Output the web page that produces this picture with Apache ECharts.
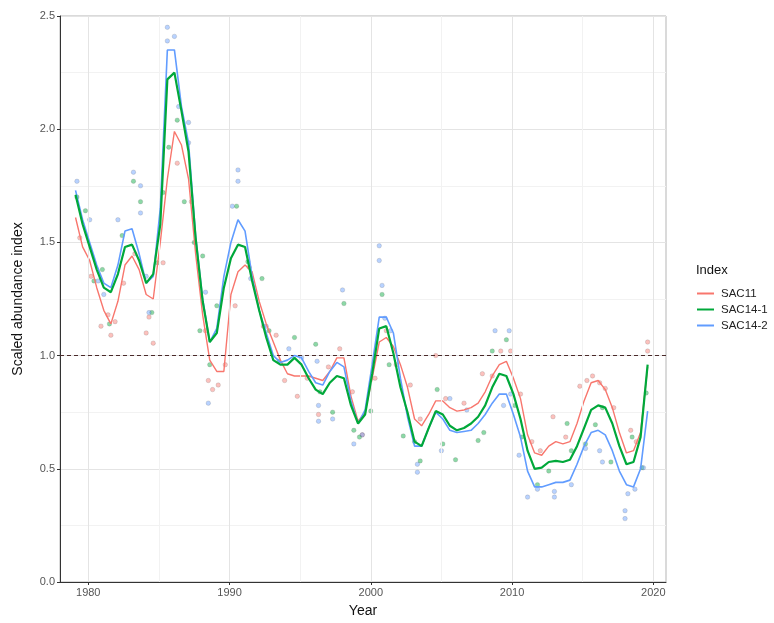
<!DOCTYPE html>
<html>
<head>
<meta charset="utf-8">
<script src="https://cdn.jsdelivr.net/npm/echarts@6/dist/echarts.min.js"></script>
<style>
  html, body { margin: 0; padding: 0; background: #fff; }
  #chart { width: 774px; height: 623px; }
</style>
</head>
<body>
<div id="chart"></div>
<script>
// Smoothed index values on a half-year time grid (1979.1 .. 2019.6)
const years = Array.from({ length: 82 }, (_, i) => +(1979.1 + 0.5 * i).toFixed(1));

const sac11 = [
  1.61, 1.48, 1.42, 1.30, 1.20, 1.14, 1.24, 1.40, 1.44, 1.38,
  1.27, 1.25, 1.50, 1.78, 1.99, 1.93, 1.78, 1.45, 1.18, 0.98,
  0.93, 0.93, 1.27, 1.37, 1.40, 1.37, 1.24, 1.14, 1.06, 0.98,
  0.92, 0.91, 0.91, 0.91, 0.90, 0.89, 0.93, 0.99, 0.99, 0.82,
  0.71, 0.75, 0.90, 1.06, 1.08, 1.04, 0.96, 0.86, 0.72, 0.69,
  0.74, 0.80, 0.80, 0.77, 0.755, 0.76, 0.77, 0.79, 0.84, 0.91,
  0.96, 0.975, 0.90, 0.81, 0.65, 0.57, 0.56, 0.60, 0.62, 0.61,
  0.62, 0.70, 0.80, 0.88, 0.89, 0.85, 0.77, 0.66, 0.57, 0.58,
  0.66, 0.95
];

const sac14_1 = [
  1.71, 1.58, 1.48, 1.38, 1.30, 1.28, 1.36, 1.48, 1.49, 1.42,
  1.32, 1.36, 1.58, 2.22, 2.25, 2.08, 1.90, 1.52, 1.24, 1.06,
  1.10, 1.30, 1.43, 1.49, 1.48, 1.33, 1.20, 1.08, 0.98, 0.96,
  0.96, 0.99, 0.96, 0.90, 0.85, 0.83, 0.88, 0.91, 0.90, 0.78,
  0.70, 0.74, 0.92, 1.12, 1.13, 1.01, 0.86, 0.75, 0.62, 0.60,
  0.68, 0.755, 0.74, 0.69, 0.67, 0.68, 0.70, 0.73, 0.78, 0.86,
  0.92, 0.91, 0.83, 0.72, 0.58, 0.50, 0.505, 0.53, 0.535, 0.53,
  0.54, 0.60, 0.68, 0.76, 0.78, 0.77, 0.70, 0.60, 0.52, 0.53,
  0.64, 0.96
];

const sac14_2 = [
  1.73, 1.60, 1.50, 1.40, 1.32, 1.30, 1.40, 1.55, 1.56, 1.45,
  1.32, 1.35, 1.65, 2.35, 2.35, 2.10, 1.94, 1.53, 1.25, 1.06,
  1.12, 1.35, 1.50, 1.60, 1.55, 1.35, 1.20, 1.10, 1.00, 0.97,
  0.98, 1.00, 0.99, 0.93, 0.88, 0.87, 0.93, 0.97, 0.95, 0.80,
  0.70, 0.76, 0.96, 1.17, 1.17, 1.10, 0.90, 0.73, 0.60, 0.60,
  0.68, 0.75, 0.72, 0.67, 0.66, 0.665, 0.67, 0.70, 0.74, 0.79,
  0.83, 0.83, 0.74, 0.64, 0.49, 0.42, 0.42, 0.43, 0.44, 0.44,
  0.45, 0.52, 0.60, 0.66, 0.67, 0.65, 0.58, 0.49, 0.43, 0.42,
  0.50, 0.755
];

// Individual observations [year, index]
const sac11Obs = [
  [1979.4,1.52],[1980.2,1.35],[1980.9,1.13],[1981.4,1.18],[1981.6,1.09],[1981.9,1.15],
  [1982.5,1.32],[1983.3,1.45],[1984.1,1.10],[1984.3,1.17],[1984.6,1.055],[1985.3,1.41],
  [1986.3,1.85],[1987.3,1.68],[1988.3,1.11],[1988.5,0.89],[1988.8,0.85],[1989.2,0.87],
  [1989.7,0.96],[1990.4,1.22],[1991.4,1.39],[1992.4,1.13],[1993.3,1.09],[1993.9,0.89],
  [1994.8,0.82],[1995.5,0.90],[1996.3,0.74],[1997.0,0.95],[1997.8,1.03],[1998.7,0.84],
  [1999.4,0.65],[2000.3,0.90],[2001.1,1.11],[2001.8,0.96],[2002.8,0.87],[2003.5,0.72],
  [2004.6,1.00],[2005.3,0.81],[2006.6,0.79],[2007.9,0.92],[2008.6,0.91],[2009.2,1.02],
  [2009.9,1.02],[2010.6,0.83],[2011.4,0.62],[2012.0,0.58],[2012.9,0.73],[2013.8,0.64],
  [2014.8,0.865],[2015.3,0.89],[2015.7,0.91],[2016.2,0.88],[2016.6,0.855],[2017.2,0.77],
  [2018.4,0.67],[2018.8,0.62],[2019.6,1.06],[2019.6,1.02]
];
const sac14_1Obs = [
  [1979.2,1.70],[1979.8,1.64],[1980.4,1.33],[1981.0,1.38],[1981.5,1.14],[1982.4,1.53],
  [1983.2,1.77],[1983.7,1.68],[1984.5,1.19],[1984.9,1.41],[1985.3,1.72],[1985.7,1.92],
  [1986.3,2.04],[1986.8,1.68],[1987.5,1.50],[1988.1,1.44],[1987.9,1.11],[1988.6,0.96],
  [1989.1,1.22],[1990.5,1.66],[1991.3,1.415],[1992.3,1.34],[1992.8,1.11],[1993.5,0.975],
  [1994.6,1.08],[1996.1,1.05],[1996.4,0.84],[1997.3,0.75],[1998.1,1.23],[1998.8,0.67],
  [1999.2,0.64],[2000.0,0.755],[2000.8,1.27],[2001.3,0.96],[2002.3,0.645],[2003.1,0.62],
  [2003.5,0.535],[2004.7,0.85],[2005.1,0.61],[2006.0,0.54],[2007.6,0.625],[2008.0,0.66],
  [2008.6,1.02],[2009.6,1.07],[2010.2,0.78],[2010.7,0.64],[2011.8,0.43],[2012.6,0.49],
  [2013.9,0.70],[2014.2,0.58],[2015.2,0.61],[2015.9,0.695],[2016.4,0.77],[2017.0,0.53],
  [2018.5,0.64],[2019.2,0.505],[2019.5,0.835]
];
const sac14_2Obs = [
  [1979.2,1.77],[1980.1,1.60],[1980.7,1.33],[1981.1,1.27],[1982.1,1.60],[1983.2,1.81],
  [1983.7,1.75],[1983.7,1.63],[1984.3,1.19],[1984.1,1.35],[1985.6,2.45],[1985.6,2.39],
  [1986.1,2.41],[1986.4,2.10],[1987.1,2.03],[1987.1,1.94],[1988.3,1.28],[1988.5,0.79],
  [1990.2,1.66],[1990.6,1.82],[1990.6,1.77],[1991.5,1.34],[1992.6,1.13],[1994.2,1.03],
  [1995.1,0.99],[1996.2,0.975],[1996.3,0.78],[1996.3,0.71],[1997.3,0.72],[1998.0,1.29],
  [1998.8,0.61],[1999.4,0.65],[2000.6,1.485],[2000.6,1.42],[2000.8,1.31],[2001.0,1.165],
  [2001.4,1.11],[2003.3,0.52],[2003.3,0.485],[2005.0,0.58],[2005.6,0.81],[2006.8,0.76],
  [2008.8,1.11],[2009.8,1.11],[2009.4,0.78],[2009.9,0.83],[2010.5,0.56],[2011.1,0.375],
  [2011.8,0.41],[2013.0,0.375],[2013.0,0.40],[2014.2,0.43],[2015.2,0.59],[2016.2,0.58],
  [2016.4,0.53],[2018.0,0.315],[2018.0,0.28],[2018.2,0.39],[2018.7,0.41],[2019.3,0.505]
];

const xTicks = [1980, 1990, 2000, 2010, 2020];
const xMinorTicks = [1985, 1995, 2005, 2015];
const refLevel = 1.0;

const COLORS = { SAC11: '#F8766D', 'SAC14-1': '#00A83A', 'SAC14-2': '#619CFF' };
const FONT = 'Liberation Sans, Arial, sans-serif';

const pair = (vals) => years.map((y, i) => [y, vals[i]]);

const chart = echarts.init(document.getElementById('chart'), null, { renderer: 'canvas' });

function lineSeries(name, vals, width, z) {
  return {
    name, type: 'line', data: pair(vals), showSymbol: false, symbol: 'none',
    smooth: false, z,
    lineStyle: { color: COLORS[name], width },
    itemStyle: { color: COLORS[name] },
    emphasis: { disabled: true }, silent: true
  };
}
function obsSeries(name, data) {
  return {
    name: name + ' obs', type: 'scatter', data, symbolSize: 4.5, z: 1,
    itemStyle: { color: COLORS[name], opacity: 0.45, borderColor: 'rgba(70,70,70,0.5)', borderWidth: 0.7 },
    silent: true
  };
}

const option = {
  animation: false,
  backgroundColor: '#fff',
  textStyle: { fontFamily: FONT },
  grid: { left: 60, right: 108, top: 16, bottom: 38, show: true, borderColor: '#b5b5b5', borderWidth: 1, backgroundColor: 'transparent' },
  title: {
    text: 'Index', left: 691, top: 259,
    textStyle: { fontFamily: FONT, fontSize: 13, fontWeight: 'normal', color: '#111' }
  },
  legend: {
    data: ['SAC11', 'SAC14-1', 'SAC14-2'],
    orient: 'vertical', left: 692, top: 282,
    icon: 'rect', itemWidth: 17, itemHeight: 2, itemGap: 3,
    textStyle: { fontFamily: FONT, fontSize: 11.5, color: '#222', padding: [0, 0, 0, 2], lineHeight: 13 },
    selectedMode: false
  },
  xAxis: {
    type: 'value', min: 1978, max: 2020.9,
    name: 'Year', nameLocation: 'middle', nameGap: 22,
    nameTextStyle: { fontFamily: FONT, fontSize: 14, color: '#111' },
    axisLine: { show: true, onZero: false, lineStyle: { color: '#333', width: 1 } },
    axisTick: { show: true, customValues: xTicks, length: 3, lineStyle: { color: '#333' } },
    axisLabel: { customValues: xTicks, fontFamily: FONT, fontSize: 11, color: '#555', margin: 5, formatter: (v) => String(Math.round(v)) },
    splitLine: { show: false }
  },
  yAxis: {
    type: 'value', min: 0, max: 2.5, interval: 0.5,
    name: 'Scaled abundance index', nameLocation: 'middle', nameGap: 35,
    nameTextStyle: { fontFamily: FONT, fontSize: 14, color: '#111' },
    axisLine: { show: true, onZero: false, lineStyle: { color: '#333', width: 1 } },
    axisTick: { show: true, length: 3, lineStyle: { color: '#333' } },
    axisLabel: { fontFamily: FONT, fontSize: 11, color: '#555', margin: 5, formatter: (v) => v.toFixed(1) },
    splitLine: { show: true, lineStyle: { color: '#e4e4e4', width: 1 } },
    minorTick: { show: false, splitNumber: 2 },
    minorSplitLine: { show: true, lineStyle: { color: '#f2f2f2', width: 1 } }
  },
  series: [
    {
      // vertical grid lines
      name: 'grid', type: 'line', data: [], silent: true, z: 0,
      markLine: {
        silent: true, symbol: 'none', label: { show: false }, animation: false,
        data: [
          ...xTicks.map((v) => ({ xAxis: v, lineStyle: { color: '#e4e4e4', width: 1, type: 'solid' } })),
          ...xMinorTicks.map((v) => ({ xAxis: v, lineStyle: { color: '#f2f2f2', width: 1, type: 'solid' } }))
        ]
      }
    },
    obsSeries('SAC11', sac11Obs),
    obsSeries('SAC14-1', sac14_1Obs),
    obsSeries('SAC14-2', sac14_2Obs),
    {
      // reference level
      name: 'ref', type: 'line', data: [], silent: true, z: 3,
      markLine: {
        silent: true, symbol: 'none', label: { show: false }, animation: false,
        data: [{ yAxis: refLevel }],
        lineStyle: { color: '#4a2a2a', width: 1, type: [4, 3] }
      }
    },
    lineSeries('SAC11', sac11, 1.4, 4),
    lineSeries('SAC14-2', sac14_2, 1.6, 5),
    lineSeries('SAC14-1', sac14_1, 2.2, 6)
  ]
};

chart.setOption(option);
</script>
</body>
</html>
